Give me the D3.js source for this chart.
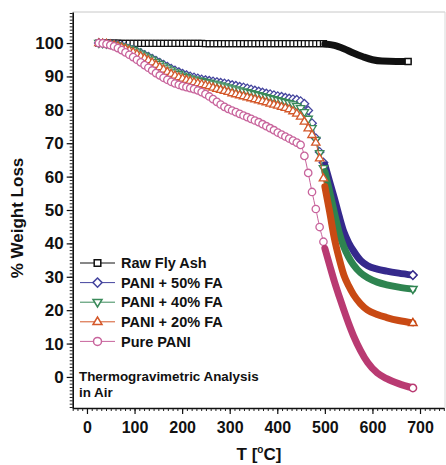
<!DOCTYPE html>
<html>
<head>
<meta charset="utf-8">
<script src="https://cdn.jsdelivr.net/npm/d3@7"></script>
<style>
  body { margin: 0; background: #fff; }
  text { font-family: "Liberation Sans", Arial, Helvetica, sans-serif; font-weight: bold; fill: #111; }
</style>
</head>
<body>
<svg id="chart" width="446" height="465"></svg>
<script>
// Temperatures (°C) of the open-marker readings
const temps = [25,33,41,49,57,65,73,81,89,97,105,113,121,129,137,145,153,161,169,177,
  185,193,201,209,217,225,233,241,249,257,265,273,281,289,297,305,313,321,329,337,
  345,353,361,369,377,385,393,401,409,417,425,433,441,449,457,465,473,481,489,497];

// Weight remaining (%) at each temperature above
const rawFlyAsh = [100,100,100,100,100,100,99.9,99.9,99.9,99.9,99.9,99.9,99.9,99.9,99.9,99.9,99.9,99.9,99.9,99.9,
  99.9,99.9,99.9,99.9,99.9,99.9,99.9,99.9,99.8,99.8,99.8,99.8,99.8,99.8,99.8,99.8,99.8,99.8,99.8,99.8,
  99.8,99.8,99.8,99.8,99.8,99.8,99.8,99.8,99.8,99.8,99.8,99.8,99.8,99.8,99.8,99.8,99.8,99.8,99.8,99.8];
const pani50 = [100,99.9,99.8,99.7,99.6,99.4,99.1,98.8,98.4,98.0,97.5,97.0,96.4,95.9,95.3,94.7,94.1,93.5,92.9,92.3,
  91.8,91.3,90.8,90.4,90.0,89.7,89.4,89.1,88.9,88.7,88.5,88.3,88.1,87.9,87.7,87.4,87.2,86.9,86.7,86.4,
  86.1,85.8,85.5,85.2,84.9,84.7,84.4,84.1,83.9,83.6,83.4,83.2,83.0,82.6,81.8,79.8,76.0,71.5,67.4,64.2];
const pani40 = [100,99.9,99.8,99.7,99.5,99.3,99.0,98.7,98.3,97.9,97.4,96.8,96.2,95.6,95.0,94.3,93.7,93.0,92.4,91.8,
  91.2,90.7,90.2,89.8,89.4,89.1,88.8,88.6,88.3,88.1,87.8,87.6,87.3,87.0,86.7,86.4,86.1,85.8,85.5,85.3,
  85.0,84.7,84.4,84.1,83.8,83.5,83.2,82.9,82.6,82.3,82.0,81.6,81.1,80.5,79.3,77.3,74.5,71.0,67.0,62.5];
const pani20 = [100,99.9,99.8,99.6,99.4,99.1,98.7,98.3,97.8,97.3,96.7,96.1,95.5,94.9,94.2,93.5,92.8,92.1,91.4,90.8,
  90.3,89.8,89.4,89.0,88.7,88.3,88.0,87.7,87.4,87.1,86.7,86.3,86.0,85.7,85.4,85.0,84.7,84.4,84.1,83.8,
  83.5,83.2,82.9,82.6,82.3,81.9,81.6,81.3,80.9,80.6,80.2,79.6,78.9,78.0,76.5,74.5,72.5,70.2,65.5,59.5];
const purePani = [100,99.9,99.7,99.4,99.0,98.5,97.9,97.2,96.5,95.8,95.0,94.2,93.4,92.6,91.8,91.0,90.3,89.6,89.0,88.4,
  87.9,87.5,87.1,86.8,86.5,86.2,85.8,85.3,84.7,84.0,83.2,82.4,81.6,80.9,80.3,79.8,79.3,78.8,78.3,77.8,
  77.3,76.8,76.3,75.7,75.1,74.5,73.9,73.2,72.6,72.0,71.4,70.8,70.2,69.5,66.2,61.1,55.4,50.3,44.9,40.5];

// Densely sampled decomposition stage (drawn as a solid band)
const rawTailTemps = [500,520,540,560,580,600,620,650,675];
const rawFlyAshTail = [99.7,99.3,98.3,97.0,95.9,95.0,94.6,94.5,94.5];
const tailTemps = [500,510,520,530,540,550,560,575,590,610,630,655,685];
const pani50Tail = [63.5,58.5,53.5,48.2,43.4,40.2,37.8,34.9,33.3,32.3,31.7,31.1,30.5];
const pani40Tail = [61.5,55.5,49.2,43.2,38.9,35.9,33.6,31.2,29.7,28.4,27.6,26.9,26.3];
const pani20Tail = [57.0,49.5,41.5,35.5,30.5,27.3,24.7,21.9,20.0,18.7,17.8,16.9,16.2];
const purePaniTail = [38.5,33.5,28.6,24.2,20.0,16.0,12.4,7.9,4.3,1.2,-0.5,-2.0,-3.3];

const seriesNames = ["Raw Fly Ash", "PANI + 50% FA", "PANI + 40% FA", "PANI + 20% FA", "Pure PANI"];
const xTicks = [0,100,200,300,400,500,600,700];
const yTicks = [0,10,20,30,40,50,60,70,80,90,100];

const svg = d3.select("#chart");
const x = d3.scaleLinear().domain([-30, 750]).range([72.7, 443.8]);
const y = d3.scaleLinear().domain([-9.3, 109.3]).range([408, 12]);

// Marker shapes
const shapes = {
  square: s => `M${-s},${-s}h${2*s}v${2*s}h${-2*s}Z`,
  diamond: s => `M0,${-s}L${s},0L0,${s}L${-s},0Z`,
  triDown: s => `M${-s},${-s*0.62}L${s},${-s*0.62}L0,${s*1.05}Z`,
  triUp: s => `M${-s},${s*0.62}L${s},${s*0.62}L0,${-s*1.05}Z`,
  circle: s => `M${-s},0a${s},${s} 0 1,0 ${2*s},0a${s},${s} 0 1,0 ${-2*s},0Z`
};

const series = [
  { name: seriesNames[0], vals: rawFlyAsh, tT: rawTailTemps, tV: rawFlyAshTail, shape: "square", size: 3, mark: "#111", band: "#111" },
  { name: seriesNames[1], vals: pani50, tT: tailTemps, tV: pani50Tail, shape: "diamond", size: 4.3, mark: "#44449e", band: "#35298c" },
  { name: seriesNames[2], vals: pani40, tT: tailTemps, tV: pani40Tail, shape: "triDown", size: 4.2, mark: "#3a8a5a", band: "#2e8450" },
  { name: seriesNames[3], vals: pani20, tT: tailTemps, tV: pani20Tail, shape: "triUp", size: 4.2, mark: "#d4582a", band: "#c94a14" },
  { name: seriesNames[4], vals: purePani, tT: tailTemps, tV: purePaniTail, shape: "circle", size: 3.7, mark: "#c8649c", band: "#b93a72" }
];

// Frame (top and right edges)
svg.append("line").attr("x1", 72.7).attr("x2", 445).attr("y1", 12).attr("y2", 12)
  .attr("stroke", "#c8c8c8").attr("stroke-width", 1);
svg.append("line").attr("x1", 445).attr("x2", 445).attr("y1", 12).attr("y2", 408)
  .attr("stroke", "#d8d8d8").attr("stroke-width", 1);

// Minor ticks
const minorX = d3.axisBottom(x).tickValues(d3.range(-30, 751, 10)).tickSize(3).tickFormat("").tickSizeOuter(0);
const minorY = d3.axisLeft(y).tickValues(d3.range(-9, 110, 1)).tickSize(3).tickFormat("").tickSizeOuter(0);
svg.append("g").attr("transform", "translate(0,408)").call(minorX)
  .call(g => g.select(".domain").remove()).selectAll("line").attr("stroke", "#222");
svg.append("g").attr("transform", "translate(72.7,0)").call(minorY)
  .call(g => g.select(".domain").remove()).selectAll("line").attr("stroke", "#222");

// Major axes
const xAxis = svg.append("g").attr("transform", "translate(0,408)")
  .call(d3.axisBottom(x).tickValues(xTicks).tickSize(6).tickPadding(8).tickSizeOuter(0));
xAxis.selectAll("text").style("font-size", "16px").attr("fill", "#111");
const yAxis = svg.append("g").attr("transform", "translate(72.7,0)")
  .call(d3.axisLeft(y).tickValues(yTicks).tickSize(6).tickPadding(3).tickSizeOuter(0));
yAxis.selectAll("text").style("font-size", "17px").attr("fill", "#111");
[xAxis, yAxis].forEach(a => {
  a.select(".domain").attr("stroke", "#111").attr("stroke-width", 1.6);
  a.selectAll(".tick line").attr("stroke", "#111").attr("stroke-width", 1.2);
});

// Axis titles
svg.append("text").attr("transform", "translate(23,218) rotate(-90)")
  .attr("text-anchor", "middle").style("font-size", "17px").text("% Weight Loss");
const xt = svg.append("text").attr("x", 259).attr("y", 460).attr("text-anchor", "middle").style("font-size", "17px");
xt.append("tspan").text("T [");
xt.append("tspan").attr("dy", -7).style("font-size", "10px").text("o");
xt.append("tspan").attr("dy", 7).text("C]");

// Curves
const line = d3.line().x(d => x(d[0])).y(d => y(d[1])).curve(d3.curveMonotoneX);

series.forEach(s => {
  const pts = temps.map((t, i) => [t, s.vals[i]]);
  const tail = s.tT.map((t, i) => [t, s.tV[i]]);
  const g = svg.append("g");
  g.append("path").attr("d", line(pts.concat(tail))).attr("fill", "none")
    .attr("stroke", s.mark).attr("stroke-width", 1);
  g.selectAll("path.m").data(pts).join("path").attr("class", "m")
    .attr("transform", d => `translate(${x(d[0])},${y(d[1])})`)
    .attr("d", shapes[s.shape](s.size))
    .attr("fill", "#fff").attr("stroke", s.mark).attr("stroke-width", 1.3);
  g.append("path").attr("d", line(tail)).attr("fill", "none")
    .attr("stroke", s.band).attr("stroke-width", 7).attr("stroke-linecap", "round");
  const last = tail[tail.length - 1];
  g.append("path").attr("transform", `translate(${x(last[0])},${y(last[1])})`)
    .attr("d", shapes[s.shape](s.size))
    .attr("fill", "#fff").attr("stroke", s.band).attr("stroke-width", 1.5);
});

// Legend
const legend = svg.append("g");
series.forEach((s, i) => {
  const ly = 263 + i * 19.6;
  legend.append("line").attr("x1", 80).attr("x2", 115).attr("y1", ly).attr("y2", ly)
    .attr("stroke", s.mark).attr("stroke-width", 1);
  legend.append("path").attr("transform", `translate(97.5,${ly})`)
    .attr("d", shapes[s.shape](s.size + 0.3))
    .attr("fill", "#fff").attr("stroke", s.mark).attr("stroke-width", 1.5);
  legend.append("text").attr("x", 121).attr("y", ly).attr("dy", "0.36em")
    .style("font-size", "14.5px").text(s.name);
});

// Annotation
svg.append("text").attr("x", 79).attr("y", 381).style("font-size", "13.4px").text("Thermogravimetric Analysis");
svg.append("text").attr("x", 79).attr("y", 397).style("font-size", "13.4px").text("in Air");
</script>
</body>
</html>
